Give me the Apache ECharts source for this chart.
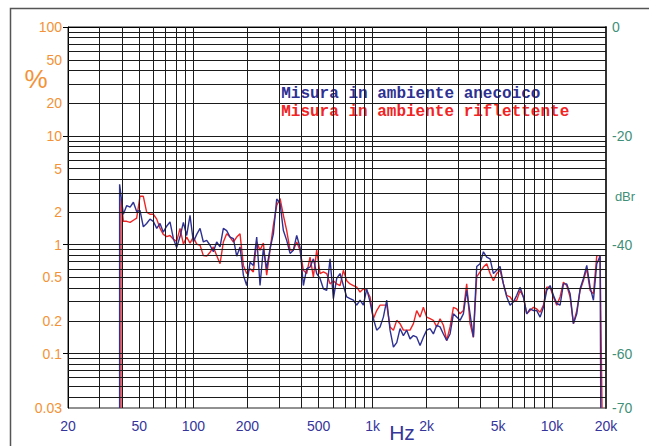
<!DOCTYPE html>
<html><head><meta charset="utf-8">
<script src="https://cdn.jsdelivr.net/npm/echarts@6/dist/echarts.min.js"></script>
<style>html,body{margin:0;padding:0;background:#fff}#c{width:649px;height:446px}</style>
</head><body><div id="c"></div><script>
// ---- data (frequency in Hz, level in dBr; 0 dBr = 100 %) ----
const gridHz = [40.7,42.5,44.4,46.3,48.3,50.4,52.6,54.9,57.3,59.8,62.5,65.2,68.0,71.0,74.1,77.4,80.7,84.3,88.0,91.8,
95.8,100,104.4,109,113.7,118.7,123.9,129.3,134.9,140.9,147,153.4,160.2,167.2,174.5,182.1,190.1,198.4,207.1,216.1,
225.6,235.4,245.7,256.4,267.7,279.4,291.6,304.4,317.7,331.6,346.1,361.2,377,393.5,410.7,428.6,447.4,467,487.4,508.7,
531,554.1,578.5,603.8,630.2,657.7,686.5,716.4,747.8,780.5,814.6,850.3,887.5,926.2,966.8,1009,1053,1099,1147,1198,
1250,1305,1362,1421,1483,1548,1616,1687,1760,1837,1917,2001,2089,2180,2276,2375,2479,2587,2701,2819,
2942,3070,3204,3344,3491,3644,3803,3970,4144,4325,4514,4712,4917,5133,5358,5592,5837,6092,6358,6636,
6926,7229,7546,7876,8220,8580,8955,9346,9756,10183,10627,11092,11577,12083,12613,13165,13740,14341,14968,15622,
16307,17020,17764,18539];
const blueDb = [-34.4,-32.8,-33.1,-32.2,-33.9,-33.7,-36.7,-36.1,-35.3,-35.7,-37.0,-36.1,-37.7,-36.6,-35.8,-38.9,-40.5,-38.5,-35.9,-38.3,
-34.6,-39.5,-38.1,-37.0,-39.5,-39.2,-40.1,-41.3,-39.5,-40.4,-37.0,-37.4,-38.6,-38.9,-42.1,-40.4,-45.6,-47.5,-43.2,-43.8,
-38.6,-47.5,-40.7,-44.4,-40.7,-38.0,-31.6,-32.4,-37.4,-39.2,-41.6,-41.0,-38.3,-40.5,-47.5,-44.4,-44.1,-42.6,-45.3,-46.2,
-48.1,-48.4,-42.6,-49.9,-46.2,-45.3,-47.5,-49.6,-49.9,-50.2,-51.1,-50.2,-51.1,-48.1,-50.5,-53.6,-55.7,-55.1,-53.3,-50.2,
-55.7,-58.8,-58.0,-55.4,-56.7,-55.7,-57.3,-56.7,-57.0,-58.5,-57.0,-55.7,-55.4,-56.4,-54.8,-55.1,-56.4,-57.6,-56.4,-52.7,
-53.3,-53.9,-52.7,-48.4,-52.7,-57.0,-44.0,-43.5,-41.3,-42.3,-42.6,-45.3,-44.7,-44.0,-47.2,-49.6,-51.1,-50.5,-49.3,-47.8,
-49.6,-52.7,-51.8,-52.1,-52.1,-53.3,-51.5,-48.4,-47.5,-49.3,-50.8,-51.1,-47.2,-47.2,-49.0,-54.5,-52.7,-48.1,-46.2,-43.8,
-47.8,-50.2,-43.5,-42.1];
const redDb = [-35.7,-35.7,-35.9,-35.5,-35.1,-31.1,-31.1,-34.0,-34.4,-34.4,-35.3,-37.0,-38.1,-38.5,-38.3,-39.0,-39.4,-37.0,-39.9,-38.6,
-39.7,-38.6,-39.9,-40.1,-42.0,-42.1,-41.4,-40.4,-42.0,-43.5,-39.5,-38.0,-38.6,-39.5,-38.6,-38.0,-43.8,-45.3,-44.4,-45.0,
-39.5,-41.0,-39.7,-45.6,-41.0,-36.4,-32.8,-31.5,-34.6,-37.4,-41.0,-41.0,-39.5,-41.0,-44.7,-45.3,-42.3,-45.9,-41.0,-45.3,
-45.0,-45.3,-47.2,-46.6,-47.2,-47.5,-44.7,-46.6,-47.2,-47.5,-47.8,-48.7,-48.1,-48.4,-49.6,-53.6,-52.1,-51.1,-51.1,-51.1,
-55.1,-55.7,-53.9,-54.5,-55.7,-55.7,-55.7,-54.5,-52.1,-53.3,-51.5,-53.3,-53.6,-53.9,-55.1,-53.6,-54.8,-57.6,-55.1,-51.5,
-51.8,-52.7,-52.1,-47.2,-54.5,-57.0,-45.9,-45.0,-44.1,-43.5,-45.3,-46.6,-45.3,-44.7,-47.2,-49.3,-49.6,-50.5,-50.2,-48.4,
-49.6,-52.7,-52.1,-51.5,-51.8,-52.4,-51.1,-47.8,-47.8,-49.6,-51.1,-49.6,-46.9,-47.5,-49.6,-54.5,-52.1,-48.4,-46.6,-44.4,
-48.4,-49.0,-42.0,-42.0];
// sweep onset (vertical rise from the floor) and cutoff (drop to the floor)
const blueOnsetHz = 38.8, blueOnsetDb = -28.9, blueCutoffHz = 18700;
const redOnsetHz = 39.5, redOnsetDb = -31.5, redCutoffHz = 19000;
const floorDb = -70;

const seriesNames = ['Misura in ambiente anecoico', 'Misura in ambiente riflettente'];
const xTickHz = [20,50,100,200,500,1000,2000,5000,10000,20000];
const pctTicks = [100,50,20,10,5,2,1,0.5,0.2,0.1,0.0316];
const pctTickMarks = [100,10,1,0.1];
const dbrTicks = [0,-20,-40,-60,-70];
const gridDecadesHz = [10,100,1000,10000];
const gridDecadesPct = [10,1,0.1,0.01];

if (blueDb.length !== gridHz.length || redDb.length !== gridHz.length) {
  throw new Error('length mismatch ' + gridHz.length + ' ' + blueDb.length + ' ' + redDb.length);
}

// ---- build ----
const pctToDb = p => Math.max(-70, Math.min(0, 20 * Math.log10(p / 100)));
const blueData = [[blueOnsetHz, floorDb], [blueOnsetHz, blueOnsetDb]]
  .concat(gridHz.map((f, i) => [f, blueDb[i]])).concat([[blueCutoffHz, floorDb]]);
const redData = [[redOnsetHz, floorDb], [redOnsetHz, redOnsetDb]]
  .concat(gridHz.map((f, i) => [f, redDb[i]])).concat([[redCutoffHz, floorDb]]);

const gridLines = [];
gridDecadesHz.forEach(d => { for (let m = 1; m <= 9; m++) { const f = d * m; if (f > 20 && f < 20000) gridLines.push({xAxis: f}); } });
gridDecadesPct.forEach(d => { for (let m = 1; m <= 9; m++) { const p = d * m; if (p > 0.0317 && p < 100) gridLines.push({yAxis: pctToDb(p)}); } });

const ORANGE = '#f39237', XBLUE = '#35359a', TEAL = '#3f8f79';
const BLUE = '#2e3192', RED = '#f02424';
const SANS = 'Liberation Sans, Arial, sans-serif';

const chart = echarts.init(document.getElementById('c'), null, {renderer: 'svg'});
chart.setOption({
  animation: false,
  backgroundColor: '#ffffff',
  grid: {left: 68, right: 43, top: 27, bottom: 38, show: true, borderColor: '#222', borderWidth: 1, backgroundColor: 'transparent'},
  xAxis: [
    {type: 'log', logBase: 10, min: 20, max: 20000, show: false},
    {type: 'value', position: 'bottom', min: Math.log10(20), max: Math.log10(20000),
     axisLine: {show: true, lineStyle: {color: '#000', width: 1}},
     axisTick: {show: false}, splitLine: {show: false},
     axisLabel: {customValues: xTickHz.map(f => Math.log10(f)), margin: 11, color: XBLUE, fontSize: 14, fontFamily: SANS,
       formatter: v => { const f = Math.round(Math.pow(10, v)); return f >= 1000 ? (f / 1000) + 'k' : String(f); }}}
  ],
  yAxis: [
    {type: 'value', position: 'left', min: -70, max: 0,
     axisLine: {show: true, lineStyle: {color: '#000', width: 1}},
     axisTick: {show: true, customValues: pctTickMarks.map(pctToDb), length: 5, lineStyle: {color: '#000'}},
     splitLine: {show: false},
     axisLabel: {customValues: pctTicks.map(pctToDb), margin: 6, color: ORANGE, fontSize: 14, fontFamily: SANS,
       formatter: v => { const p = 100 * Math.pow(10, v / 20); return p >= 1 ? String(Math.round(p)) : String(+p.toPrecision(1)); }}},
    {type: 'value', position: 'right', min: -70, max: 0,
     axisLine: {show: true, lineStyle: {color: '#333', width: 2}},
     axisTick: {show: false}, splitLine: {show: false},
     axisLabel: {customValues: dbrTicks, margin: 6, color: TEAL, fontSize: 14, fontFamily: SANS}}
  ],
  legend: {
    orient: 'vertical', left: 264, top: 80, itemWidth: 0, itemHeight: 18, itemGap: 0, selectedMode: false,
    itemStyle: {opacity: 0}, lineStyle: {opacity: 0},
    textStyle: {fontFamily: 'Liberation Mono, Courier New, monospace', fontWeight: 'bold', fontSize: 16, lineHeight: 18},
    data: [{name: seriesNames[0], textStyle: {color: BLUE}}, {name: seriesNames[1], textStyle: {color: RED}}]
  },
  graphic: [
    {type: 'rect', silent: true, shape: {x: 10.5, y: 8.5, width: 800, height: 600}, style: {fill: 'none', stroke: '#555', lineWidth: 1.5}},
    {type: 'text', silent: true, x: 36, y: 79, style: {text: '%', fontSize: 26, fontFamily: SANS, fill: ORANGE, align: 'center', verticalAlign: 'middle'}},
    {type: 'text', silent: true, x: 402, y: 432, style: {text: 'Hz', fontSize: 21, fontFamily: SANS, fill: XBLUE, align: 'center', verticalAlign: 'middle'}},
    {type: 'text', silent: true, x: 625, y: 196, style: {text: 'dBr', fontSize: 13, fontFamily: SANS, fill: TEAL, align: 'center', verticalAlign: 'middle'}}
  ],
  series: [
    {type: 'line', name: '_grid', xAxisIndex: 0, yAxisIndex: 0, data: [], silent: true, z: 1,
     markLine: {silent: true, symbol: ['none', 'none'], label: {show: false}, animation: false,
       lineStyle: {color: '#1a1a1a', width: 1, type: 'solid'}, emphasis: {disabled: true}, data: gridLines}},
    {type: 'line', name: seriesNames[1], xAxisIndex: 0, yAxisIndex: 0, data: redData, z: 3,
     showSymbol: false, symbol: 'none', lineStyle: {color: RED, width: 1.4}, itemStyle: {color: RED}},
    {type: 'line', name: seriesNames[0], xAxisIndex: 0, yAxisIndex: 0, data: blueData, z: 4,
     showSymbol: false, symbol: 'none', lineStyle: {color: BLUE, width: 1.4}, itemStyle: {color: BLUE}}
  ]
});
</script></body></html>
